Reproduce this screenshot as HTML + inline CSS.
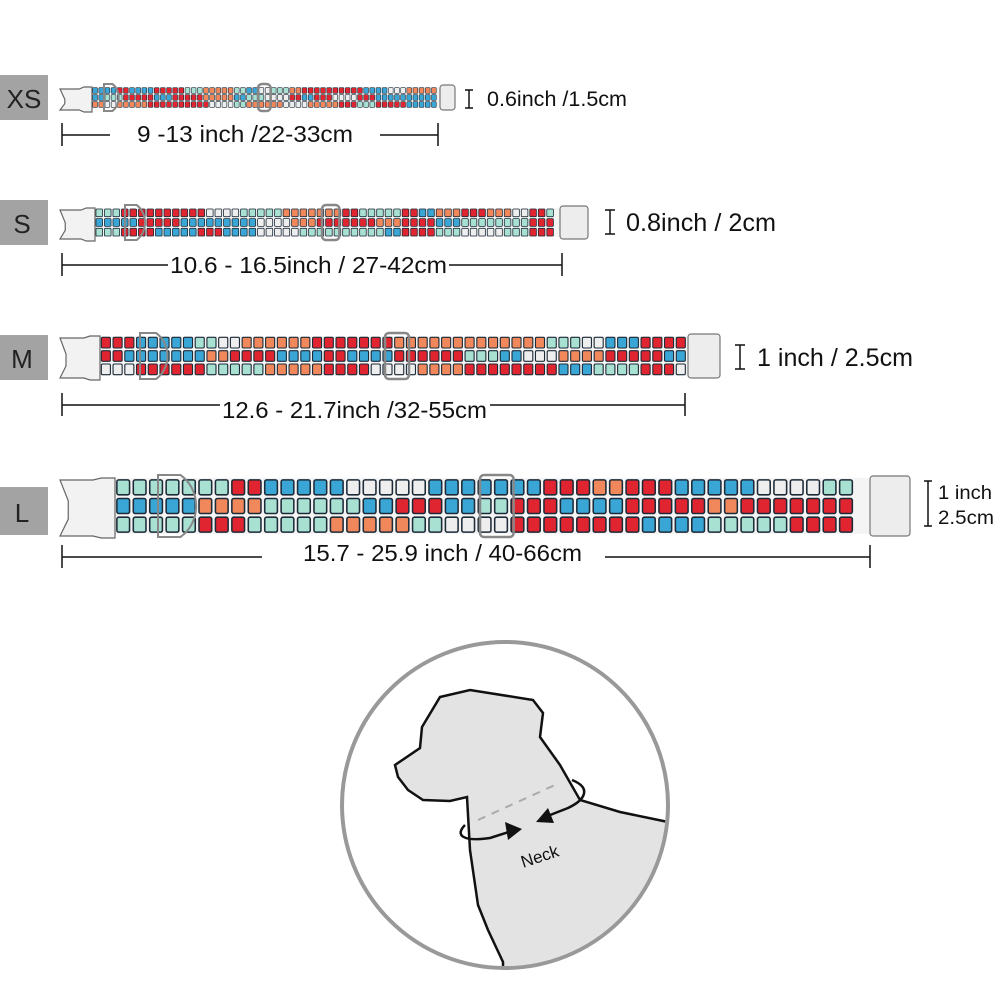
<!DOCTYPE html>
<html><head><meta charset="utf-8"><style>
html,body{margin:0;padding:0;background:#fff;}
svg{display:block;}
text{font-family:"Liberation Sans",sans-serif;fill:#111;}
.box{fill:#222;}
</style></head><body>
<svg id="s" width="1000" height="1000" viewBox="0 0 1000 1000" xmlns="http://www.w3.org/2000/svg">
<rect x="0" y="75" width="48" height="45" fill="#a3a3a3"/><text class="box" x="24" y="108" font-size="26" text-anchor="middle">XS</text>
<rect x="0" y="200" width="48" height="45" fill="#a3a3a3"/><text class="box" x="22" y="233" font-size="26" text-anchor="middle">S</text>
<rect x="0" y="335" width="48" height="45" fill="#a3a3a3"/><text class="box" x="22" y="368" font-size="26" text-anchor="middle">M</text>
<rect x="0" y="487" width="48" height="48" fill="#a3a3a3"/><text class="box" x="22" y="522" font-size="26" text-anchor="middle">L</text>
<g id="collars"></g>
<g stroke="#111" stroke-width="1.5" fill="none">
<path d="M62 123V146M62 135H110M380 135H438M438 123V146"/>
<path d="M62 253V276M62 265H168M449 265H562M562 253V276"/>
<path d="M62 393V416M62 405H220M490 405H685M685 393V416"/>
<path d="M62 545V568M62 557H262M605 557H870M870 545V568"/>
<path d="M469 90V108M465 90H473M465 108H473"/>
<path d="M610 210V234M605 210H615M605 234H615"/>
<path d="M740 345V369M735 345H745M735 369H745"/>
<path d="M928 481V526M924 481H932M924 526H932"/>
</g>
<text x="137" y="142" font-size="23" textLength="216" lengthAdjust="spacingAndGlyphs">9 -13 inch /22-33cm</text>
<text x="170" y="273" font-size="23" textLength="277" lengthAdjust="spacingAndGlyphs">10.6 - 16.5inch / 27-42cm</text>
<text x="222" y="418" font-size="23" textLength="265" lengthAdjust="spacingAndGlyphs">12.6 - 21.7inch /32-55cm</text>
<text x="303" y="561" font-size="23" textLength="279" lengthAdjust="spacingAndGlyphs">15.7 - 25.9 inch  /  40-66cm</text>
<text x="487" y="106" font-size="21" textLength="140" lengthAdjust="spacingAndGlyphs">0.6inch /1.5cm</text>
<text x="626" y="231" font-size="25" textLength="150" lengthAdjust="spacingAndGlyphs">0.8inch / 2cm</text>
<text x="757" y="366" font-size="25" textLength="156" lengthAdjust="spacingAndGlyphs">1 inch / 2.5cm</text>
<text x="938" y="499" font-size="19" textLength="54" lengthAdjust="spacingAndGlyphs">1 inch</text>
<text x="938" y="524" font-size="19" textLength="56" lengthAdjust="spacingAndGlyphs">2.5cm</text>
<circle cx="505" cy="805" r="163" fill="#fff" stroke="#999" stroke-width="4"/>
<clipPath id="cc"><circle cx="505" cy="805" r="161"/></clipPath>
<g clip-path="url(#cc)">
<path d="M503 962 L488 930 L478 905 L470 850 L467 797 L450 801 L423 800 L408 790 L398 777 L395 765 L420 748 L422 727 L440 697 L470 690 L533 700 L543 713 L540 737 L560 765 L580 800 L620 812 L668 822 L680 1000 L503 1000 Z" fill="#e3e3e3" stroke="#111" stroke-width="2.5"/>
</g>
<path d="M478 820 L555 785" stroke="#aaa" stroke-width="2" stroke-dasharray="8,7"/>
<path d="M465 825 C455 835 462 842 490 838 L515 830" stroke="#111" stroke-width="2.5" fill="none"/>
<polygon points="522,829 505,822 508,840" fill="#111"/>
<path d="M572 780 C592 788 585 800 568 808 L545 817" stroke="#111" stroke-width="2.5" fill="none"/>
<polygon points="536,822 548,808 554,823" fill="#111"/>
<text x="520" y="862" font-size="17" transform="rotate(-18 540 855)">Neck</text>
</svg>
<script>
var g=document.getElementById('collars');var NS='http://www.w3.org/2000/svg';
function el(n,a){var e=document.createElementNS(NS,n);for(var k in a)e.setAttribute(k,a[k]);g.appendChild(e);return e;}
var cols=['#e02531','#f0885c','#3aa6d6','#a8e0d2','#eeeeee','#e02531'];
var seed=7;function rnd(){seed=(seed*9301+49297)%233280;return seed/233280;}
function collar(bx,y,h,sx,ex,dx,bkx,endw){
  var bw=sx-bx;
  el('rect',{x:sx,y:y,width:ex-sx,height:h,fill:'#f4f4f4'});
  var ph=h/3, pw=ph*0.88; var n=Math.floor((ex-sx)/pw);
  var sw=Math.max(0.6,ph/12);
  for(var r=0;r<3;r++){var c=0,run=0;
    for(var i=0;i<n;i++){if(run<=0){c=Math.floor(rnd()*6);run=2+Math.floor(rnd()*4);}run--;
      el('rect',{x:sx+i*pw+ph*0.1,y:y+r*ph+ph*0.1,width:pw-ph*0.2,height:ph-ph*0.2,rx:ph*0.1,fill:cols[c],stroke:'#1d2b38','stroke-width':sw});}}
  el('path',{d:'M'+bx+' '+(y+2)+'h'+(bw*0.6)+'l'+(bw*0.15)+' '+(-2)+'h'+(bw*0.25)+'v'+(h+4)+'h'+(-bw*0.25)+'l'+(-bw*0.15)+' -2h'+(-bw*0.6)+'l'+(bw*0.15)+' '+(-h*0.3)+'v'+(-h*0.4+4)+'z',fill:'#f2f2f2',stroke:'#666','stroke-width':1.2});
  el('rect',{x:ex,y:y-2,width:endw,height:h+4,rx:3,fill:'#ededed',stroke:'#777','stroke-width':1.2});
  el('path',{d:'M'+dx+' '+(y-3)+'h'+(h*0.4)+'a'+(h*0.6)+' '+(h*0.6+3)+' 0 0 1 0 '+(h+6)+'h'+(-h*0.4)+'z',fill:'none',stroke:'#888','stroke-width':2});
  el('rect',{x:bkx,y:y-3,width:h*0.6,height:h+6,rx:4,fill:'none',stroke:'#888','stroke-width':2.5});
}
collar(60,87,21,92,440,104,258,15);
collar(60,208,29,95,560,125,322,28);
collar(60,336,40,100,688,140,385,32);
collar(60,478,56,115,870,158,480,40);
</script>
</body></html>
